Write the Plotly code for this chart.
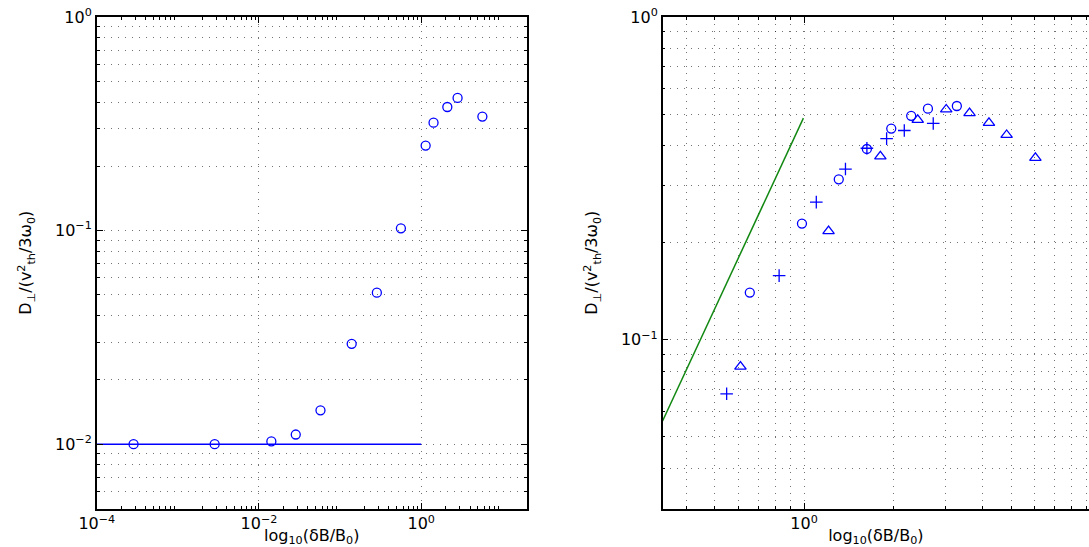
import math
import plotly.graph_objects as go

# ---------------- data ----------------
# left panel: open circles and the reference horizontal line
left_x = [2.84e-4, 2.84e-3, 0.0142, 0.0284, 0.0573, 0.139, 0.284, 0.562,
          1.135, 1.42, 2.10, 2.81, 5.68]
left_y = [0.0100, 0.0100, 0.0103, 0.0111, 0.0144, 0.0295, 0.0512, 0.1025,
          0.250, 0.320, 0.379, 0.418, 0.342]
left_ref_x = [1e-4, 1.0]
left_ref_y = [0.01, 0.01]

# right panel: three marker series and a green x^2 guide line
right_circ_x = [0.656, 0.984, 1.31, 1.63, 1.97, 2.30, 2.62, 3.28]
right_circ_y = [0.140, 0.229, 0.314, 0.390, 0.451, 0.494, 0.520, 0.530]
right_plus_x = [0.548, 0.824, 1.10, 1.38, 1.63, 1.90, 2.18, 2.73]
right_plus_y = [0.068, 0.158, 0.267, 0.338, 0.392, 0.420, 0.445, 0.468]
right_tri_x = [0.610, 1.21, 1.81, 2.42, 3.02, 3.62, 4.21, 4.83, 6.04]
right_tri_y = [0.0826, 0.217, 0.370, 0.480, 0.517, 0.504, 0.470, 0.431, 0.366]
right_line_x = [0.333, 0.995]
right_line_y = [0.0560, 0.486]

# tick labels
left_xticks = [1e-4, 1e-2, 1.0]
left_xticktext = ["10<sup>\u22124</sup>", "10<sup>\u22122</sup>", "10<sup>0</sup>"]
left_yticks = [0.01, 0.1, 1.0]
left_yticktext = ["10<sup>\u22122</sup>", "10<sup>\u22121</sup>", "10<sup>0</sup>"]
right_xticks = [1.0]
right_xticktext = ["10<sup>0</sup>"]
right_yticks = [0.1, 1.0]
right_yticktext = ["10<sup>\u22121</sup>", "10<sup>0</sup>"]

x_title = "log<sub>10</sub>(\u03b4B/B<sub>0</sub>)"
y_title = "D<sub>\u22a5</sub>/(v<sup>2</sup><sub>th</sub>/3\u03c9<sub>0</sub>)"

# ---------------- layout helpers ----------------
W, H = 1089, 547
FONT = "DejaVu Sans, Liberation Sans, Arial, sans-serif"
BLUE = "#0000ff"
GREEN = "#118811"
GRIDC = "rgba(0,0,0,0.55)"
GDASH = "1px,6px"


def minor_vals(e0, e1):
    return [k * 10.0 ** e for e in range(e0, e1 + 1) for k in range(2, 10)]


fig = go.Figure()

fig.add_trace(go.Scatter(x=left_ref_x, y=left_ref_y, mode="lines",
                         line=dict(color=BLUE, width=1.5),
                         xaxis="x", yaxis="y", showlegend=False))
fig.add_trace(go.Scatter(x=left_x, y=left_y, mode="markers",
                         marker=dict(symbol="circle-open", size=9,
                                     color=BLUE, line=dict(width=1.3, color=BLUE)),
                         xaxis="x", yaxis="y", showlegend=False))

fig.add_trace(go.Scatter(x=right_line_x, y=right_line_y, mode="lines",
                         line=dict(color=GREEN, width=1.5),
                         xaxis="x2", yaxis="y2", showlegend=False))
fig.add_trace(go.Scatter(x=right_circ_x, y=right_circ_y, mode="markers",
                         marker=dict(symbol="circle-open", size=9,
                                     color=BLUE, line=dict(width=1.3, color=BLUE)),
                         xaxis="x2", yaxis="y2", showlegend=False))
fig.add_trace(go.Scatter(x=right_plus_x, y=right_plus_y, mode="markers",
                         marker=dict(symbol="cross-thin-open", size=9,
                                     color=BLUE, line=dict(width=1.3, color=BLUE)),
                         xaxis="x2", yaxis="y2", showlegend=False))
fig.add_trace(go.Scatter(x=right_tri_x, y=right_tri_y, mode="markers",
                         marker=dict(symbol="triangle-up-open", size=10,
                                     color=BLUE, line=dict(width=1.3, color=BLUE)),
                         xaxis="x2", yaxis="y2", showlegend=False))

y_dom = [1 - 508.5 / H, 1 - 17 / H]
tickfont = dict(family=FONT, size=16, color="black")
titlefont = dict(family=FONT, size=16, color="black")

common = dict(type="log", showline=True, linecolor="black", linewidth=1.5,
              ticks="inside", ticklen=6, tickcolor="black", tickwidth=1,
              tickfont=tickfont, tickmode="array", automargin=False,
              showgrid=True, gridcolor=GRIDC, gridwidth=1, griddash=GDASH,
              zeroline=False)

fig.update_layout(
    width=W, height=H,
    margin=dict(l=0, r=0, t=0, b=0),
    paper_bgcolor="white", plot_bgcolor="white",
    template="none",
    font=dict(family=FONT, size=15, color="black"),
    xaxis=dict(common, domain=[96.8 / W, 526.7 / W], anchor="y",
               range=[-4, math.log10(20)],
               tickvals=left_xticks, ticktext=left_xticktext,
               mirror="allticks", ticklabelstandoff=0,
               minor=dict(tickvals=minor_vals(-4, 1), ticks="inside", ticklen=3,
                          tickcolor="black", showgrid=False),
               title=dict(text=x_title, font=titlefont, standoff=3)),
    yaxis=dict(common, domain=y_dom, anchor="x",
               range=[math.log10(0.005), 0],
               tickvals=left_yticks, ticktext=left_yticktext,
               mirror="allticks",
               minor=dict(tickvals=minor_vals(-3, -1), ticks="inside", ticklen=3,
                          tickcolor="black", showgrid=True, gridcolor=GRIDC,
                          griddash=GDASH),
               title=dict(text=y_title, font=titlefont, standoff=19)),
    xaxis2=dict(common, domain=[662.7 / W, 1.0], anchor="y2",
                range=[math.log10(1 / 3), 0.962],
                tickvals=right_xticks, ticktext=right_xticktext,
                mirror="allticks", ticklabelstandoff=0,
                minor=dict(tickvals=minor_vals(-1, 0), ticks="inside", ticklen=3,
                           tickcolor="black", showgrid=True, gridcolor=GRIDC,
                           griddash=GDASH),
                title=dict(text=x_title, font=titlefont, standoff=3)),
    yaxis2=dict(common, domain=y_dom, anchor="x2",
                range=[math.log10(0.03), 0],
                tickvals=right_yticks, ticktext=right_yticktext,
                mirror=False,
                minor=dict(tickvals=minor_vals(-2, -1), ticks="inside", ticklen=3,
                           tickcolor="black", showgrid=True, gridcolor=GRIDC,
                           griddash=GDASH),
                title=dict(text=y_title, font=titlefont, standoff=19)),
)

fig.write_html("out.html",
               config={"displayModeBar": False},
               post_script="document.body.style.margin='0';document.body.style.overflow='hidden';")
